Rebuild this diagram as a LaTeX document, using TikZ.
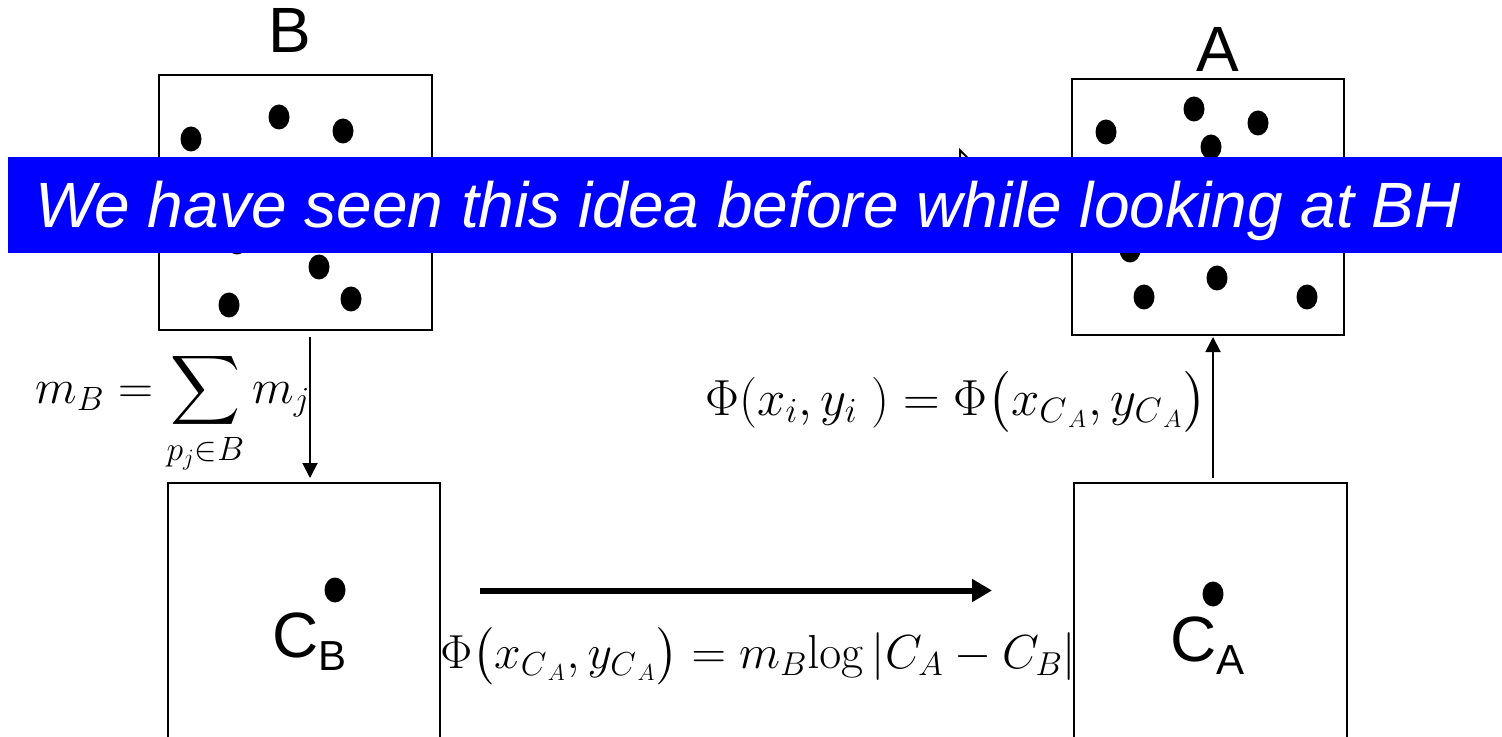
\documentclass[tikz,border=0pt]{standalone}
\usepackage{amsmath}
\usepackage{graphicx}
\usepackage[no-math]{fontspec}
\setmainfont{Liberation Sans}
\usetikzlibrary{arrows.meta,calc}
\DeclareMathSizes{24}{24}{17.5}{13}
\begin{document}
\begin{tikzpicture}[x=0.5pt,y=-0.5pt,
  box/.style={draw,line width=1pt,inner sep=0,outer sep=0},
  lbl/.style={font=\fontsize{32}{38}\selectfont,inner sep=0,anchor=base},
  thinarrow/.style={line width=1pt,-{Triangle[length=7.5pt,width=7.5pt]}},
  bigarrow/.style={line width=3pt,-{Triangle[length=10pt,width=11pt]}},
  formula/.style={inner sep=0,font=\fontsize{24}{28}\selectfont,anchor=base west},
  dotB/.style={fill=black}]
\useasboundingbox (0,0) rectangle (1502,737);
\clip (0,0) rectangle (1502,737);

% boxes
\node[box,minimum width=136.5pt,minimum height=127.5pt] (boxB) at (295.5,202.5) {};
\node[box,minimum width=136pt,minimum height=128pt] (boxA) at (1208,207) {};
\node[box,minimum width=136pt,minimum height=158.5pt] (boxCB) at (304,641.5) {};
\node[box,minimum width=136.5pt,minimum height=158.5pt] (boxCA) at (1210.5,641.5) {};

% dots in B
\foreach \p in {(191,139),(279,117),(343,131),(237,242),(319,267),(229,305),(351,299)}
  \fill[dotB] \p ellipse [x radius=5.25pt, y radius=6.25pt];
% dots in A
\foreach \p in {(1106,132),(1194,109),(1258,123),(1211,147),(1130,250),(1217,278),(1144,297),(1307,297)}
  \fill[dotB] \p ellipse [x radius=5.25pt, y radius=6.25pt];
% centre dots
\fill[dotB] (335,590) ellipse [x radius=5.25pt, y radius=6.25pt];
\fill[dotB] (1213,594) ellipse [x radius=5.25pt, y radius=6.25pt];

% labels
\node[lbl] (labB) at (290,53) {B};
\node[lbl] (labA) at (1218,72) {A};
\node[lbl,anchor=base west] (labCB) at (272,657) {C\raisebox{-6.5pt}{\fontsize{21}{25}\selectfont B}};
\node[lbl,anchor=base west] (labCA) at (1170,661) {C\raisebox{-6.5pt}{\fontsize{21}{25}\selectfont A}};

% hidden arrow B -> A (mostly under banner)
\coordinate (hidTip) at (973,162);
\draw[line width=1pt,-{Triangle[open,length=7pt,width=14pt]}] ([yshift=20.25pt]boxB.east) -- (hidTip);

% connectors
\draw[thinarrow] ([xshift=7.25pt,yshift=-3.5pt]boxB.south) -- ([xshift=3pt,yshift=2.5pt]boxCB.north);
\draw[thinarrow] ([xshift=1.25pt,yshift=2.5pt]boxCA.north) -- ([xshift=2.5pt,yshift=-1pt]boxA.south);
\draw[bigarrow] ([xshift=20pt,yshift=25.5pt]boxCB.east) -- ([xshift=-41pt,yshift=25.5pt]boxCA.west);

% formulas
\node[formula] (fmB) at (35,403) {\scalebox{0.975}{$m_B = \displaystyle\sum_{p_j\in B} m_j$}};
\node[formula] (fmA) at (705,415) {\scalebox{1.02}{$\Phi(x_i,y_i\ )=\Phi\bigl(x_{C_{\,A}},y_{C_{\,A}}\bigr)$}};
\node[formula] (fmC) at (440,668) {\scalebox{0.96}{$\Phi\bigl(x_{C_{\,A}},y_{C_{\,A}}\bigr)=m_B\mathrm{log}\,|C_A-C_B|$}};

% banner
\fill[blue] (8,157) rectangle (1502,253);
\node[anchor=base west,text=white,inner sep=0,font=\fontsize{32}{38}\selectfont\itshape] (banner) at (35,228) {We have seen this idea before while looking at BH};
\end{tikzpicture}
\end{document}
